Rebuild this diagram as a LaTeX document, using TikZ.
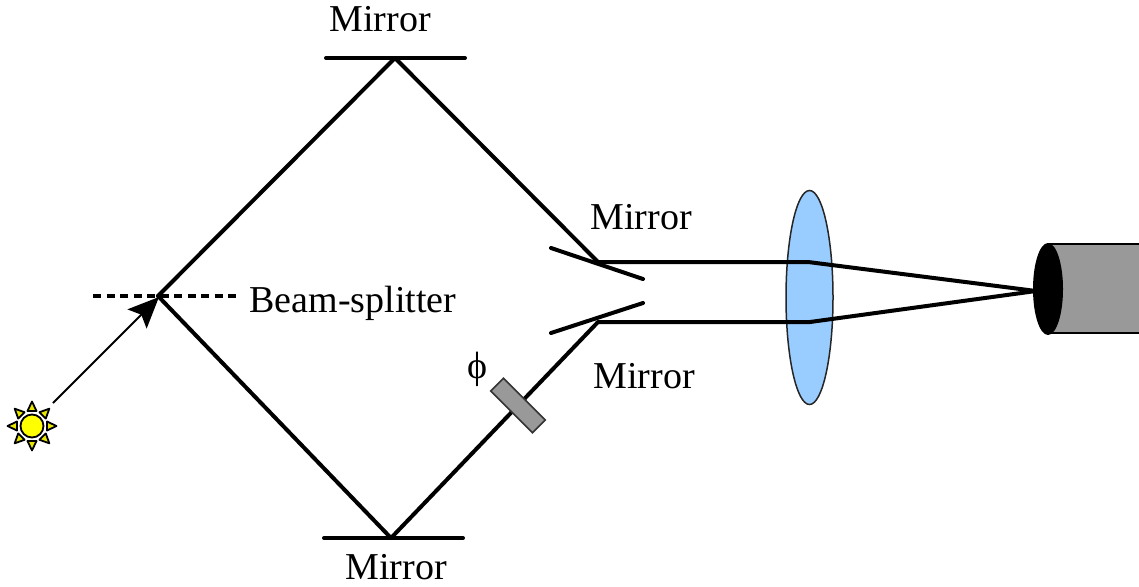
\documentclass[tikz,border=0pt]{standalone}
\usepackage{fontspec}
\setmainfont{Liberation Serif}
\usetikzlibrary{arrows.meta,shapes.geometric}
\definecolor{lensblue}{HTML}{99CCFF}
\definecolor{plategray}{HTML}{999999}
\definecolor{sunyellow}{HTML}{FFFF00}
\definecolor{rayyellow}{HTML}{E6E600}
\tikzset{
  beam/.style={line width=4pt,line cap=round,line join=round},
  mirrorbar/.style={line width=4pt,line cap=round},
  lbl/.style={font=\fontsize{38}{38}\selectfont,inner sep=0pt,anchor=center},
}
\begin{document}
\begin{tikzpicture}[x=1pt,y=-1pt]
\useasboundingbox (0,0) rectangle (1139,586);
% anchor points
\coordinate (split) at (158,296);
\coordinate (topm) at (395,58);
\coordinate (botm) at (391,538);
\coordinate (upm) at (598,262);
\coordinate (lowm) at (598,322);
\coordinate (lensup) at (808,262);
\coordinate (lenslow) at (810,322);
\coordinate (focus) at (1036,291);
\coordinate (sunc) at (32,426);
\coordinate (arrowstart) at (53,403);
\coordinate (arrowtip) at (159,297);
% detector
\fill[plategray,draw=black,line width=1.5pt] (1048,244) rectangle (1145,333);
\node[ellipse,fill=black,draw=none,inner sep=0pt,minimum width=30pt,minimum height=92pt] (det) at (1048,289) {};
% lens
\node[ellipse,fill=lensblue,draw=black!85,line width=1.5pt,inner sep=0pt,minimum width=47pt,minimum height=214pt] (lens) at (809.5,297.5) {};
% beams
\draw[beam] (split) -- (topm) -- (upm) -- (lensup) -- (focus);
\draw[beam] (split) -- (botm) -- (lowm) -- (lenslow) -- (focus);
% mirrors
\draw[mirrorbar] (326,58) -- (465,58);
\draw[mirrorbar] (324,538) -- (463,538);
\draw[mirrorbar] (551,248) -- (643,279);
\draw[mirrorbar] (551,333) -- (643,303);
% splitter
\draw[line width=4pt,dash pattern=on 8pt off 5.5pt] (93,296) -- (238,296);
% phase plate
\node[draw=black!80,fill=plategray,line width=1.5pt,minimum width=59pt,minimum height=18pt,inner sep=0pt,rotate=-45] (plate) at (518,405.5) {};
% input arrow
\draw[line width=2pt,-{Stealth[length=31pt,width=27pt,inset=6pt]}] (arrowstart) -- (arrowtip);
% sun
\foreach \a in {0,45,...,315}{
  \fill[rayyellow,draw=black,line width=1.8pt,line join=round,rotate around={\a:(sunc)}]
    ([xshift=15pt,yshift=-4.5pt]sunc) -- ([xshift=24.5pt]sunc) -- ([xshift=15pt,yshift=4.5pt]sunc) -- cycle;
}
\fill[sunyellow,draw=black,line width=1.8pt] (sunc) circle [radius=11.5];
% labels
\node[lbl] (m1) at (380,19) {Mirror};
\node[lbl] (m2) at (641,217) {Mirror};
\node[lbl] (m3) at (644,376) {Mirror};
\node[lbl] (m4) at (396,567) {Mirror};
\node[lbl] (bs) at (353,303) {Beam-splitter};
\node[lbl] (phi) at (477,369) {ϕ};
\end{tikzpicture}
\end{document}
